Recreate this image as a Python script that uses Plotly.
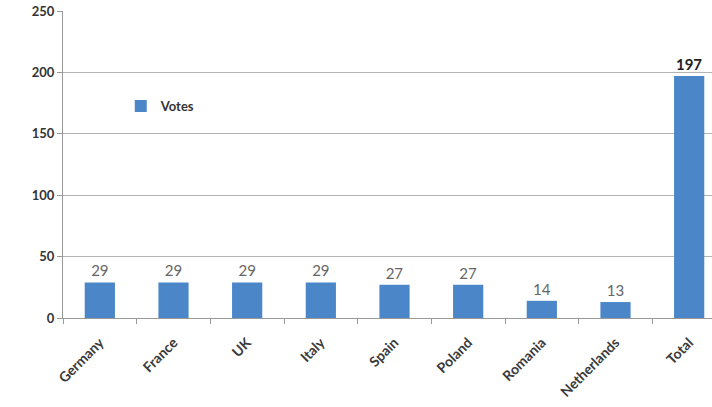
import plotly.graph_objects as go

# Votes per country, with the combined total as the last bar
countries = ["Germany", "France", "UK", "Italy", "Spain", "Poland", "Romania", "Netherlands", "Total"]
votes = [29, 29, 29, 29, 27, 27, 14, 13, 197]
y_ticks = [0, 50, 100, 150, 200, 250]

bar_color = "#4a86c8"
grid_color = "#b4b4b4"
font_family = "Lato, 'Open Sans', sans-serif"

labels = [f"<b>{v}</b>" if c == "Total" else str(v) for c, v in zip(countries, votes)]
label_colors = ["#222222" if c == "Total" else "#666666" for c in countries]

fig = go.Figure(
    go.Bar(
        x=countries,
        y=votes,
        name="Votes",
        marker=dict(color=bar_color, line=dict(width=0)),
        text=labels,
        textposition="outside",
        textfont=dict(size=15, color=label_colors, family=font_family),
        cliponaxis=False,
    )
)

fig.update_layout(
    width=712,
    height=407,
    margin=dict(l=63, r=0, t=11, b=89),
    paper_bgcolor="white",
    plot_bgcolor="white",
    bargap=0.59,
    showlegend=True,
    legend=dict(
        x=0.089,
        y=0.69,
        xanchor="left",
        yanchor="middle",
        bgcolor="rgba(0,0,0,0)",
        font=dict(size=13, color="#333333", family=font_family, weight="bold"),
        itemwidth=30,
    ),
    font=dict(family=font_family, color="#333333"),
)

fig.update_xaxes(
    range=[-0.5, 8.31],
    tickangle=-45,
    tickson="boundaries",
    ticks="outside",
    ticklen=5,
    tickcolor="#999999",
    showline=True,
    linecolor="#999999",
    linewidth=1,
    showgrid=False,
    automargin=False,
    ticklabelstandoff=10,
    tickfont=dict(size=14, color="#3a3a3a", family=font_family, weight="bold"),
)

fig.update_yaxes(
    range=[0, 250],
    tickvals=y_ticks,
    ticks="outside",
    ticklen=5,
    tickcolor="#999999",
    showline=True,
    linecolor="#999999",
    linewidth=1,
    showgrid=True,
    gridcolor=grid_color,
    gridwidth=1,
    zeroline=False,
    automargin=False,
    tickfont=dict(size=13, color="#333333", family=font_family, weight="bold"),
)

fig.write_html("out.html")
